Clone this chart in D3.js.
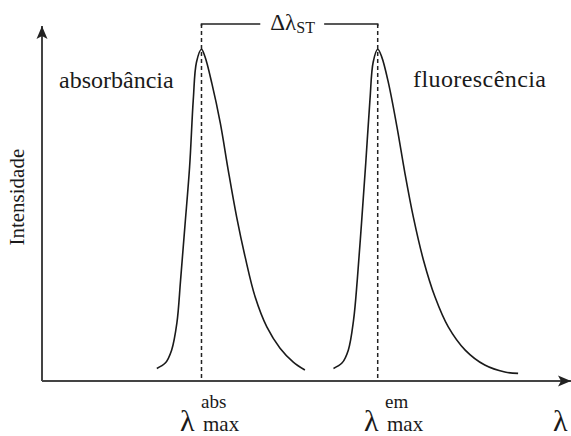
<!DOCTYPE html>
<html>
<head>
<meta charset="utf-8">
<script src="https://cdn.jsdelivr.net/npm/d3@7"></script>
<style>
  body { margin: 0; background: #fff; }
  svg { display: block; }
</style>
</head>
<body>
<svg id="chart" width="571" height="436" font-family="'Liberation Serif', 'DejaVu Serif', 'Times New Roman', serif" fill="#1a1a1a"></svg>
<script>
// wavelength in arbitrary units (0 = origin, 100 = end of axis), intensity normalised to the peak
const absWavelength = [21.7, 23.3, 24.5, 25.5, 26.2, 27.0, 27.9, 28.6, 29.2, 30.15, 30.8, 32.1, 33.7, 35.2, 36.8, 38.4, 40.3, 42.5, 45.0, 47.5, 49.7];
const absIntensity  = [0.038, 0.054, 0.093, 0.175, 0.305, 0.464, 0.645, 0.849, 0.961, 1.0, 0.978, 0.898, 0.778, 0.636, 0.494, 0.374, 0.253, 0.163, 0.099, 0.057, 0.033];

const emWavelength = [55.1, 56.7, 57.9, 58.9, 59.6, 60.4, 61.2, 62.0, 62.6, 63.46, 64.2, 65.5, 67.1, 68.6, 70.2, 72.1, 74.3, 76.8, 80.0, 83.7, 87.5, 90.0];
const emIntensity  = [0.038, 0.054, 0.093, 0.184, 0.305, 0.476, 0.657, 0.849, 0.961, 1.0, 0.978, 0.898, 0.766, 0.627, 0.494, 0.365, 0.253, 0.163, 0.093, 0.048, 0.027, 0.023];

const peakWavelength = [30.15, 63.46];
const curveLabels = ["absorbância", "fluorescência"];
const peakLabels = ["abs", "em"];

const svg = d3.select("#chart");

const x = d3.scaleLinear().domain([0, 100]).range([42, 571]);
const y = d3.scaleLinear().domain([0, 1]).range([381, 49.3]);

// arrow heads
const defs = svg.append("defs");
defs.append("marker")
    .attr("id", "arrow")
    .attr("markerUnits", "userSpaceOnUse")
    .attr("viewBox", "-14 -7 16 14")
    .attr("markerWidth", 16)
    .attr("markerHeight", 14)
    .attr("refX", 0)
    .attr("refY", 0)
    .attr("orient", "auto")
    .append("path")
    .attr("d", "M0,0 L-13,-5.5 L-10,0 L-13,5.5 Z")
    .attr("fill", "#222");

// axes
svg.append("line")
    .attr("x1", x(0)).attr("y1", y(0))
    .attr("x2", x(0)).attr("y2", y(1.07))
    .attr("stroke", "#444").attr("stroke-width", 2)
    .attr("marker-end", "url(#arrow)");

svg.append("line")
    .attr("x1", x(0)).attr("y1", y(0))
    .attr("x2", x(100)).attr("y2", y(0))
    .attr("stroke", "#444").attr("stroke-width", 2)
    .attr("marker-end", "url(#arrow)");

// spectra
const line = d3.line()
    .x(d => x(d[0]))
    .y(d => y(d[1]))
    .curve(d3.curveCatmullRom.alpha(0.5));

const spectra = [
    d3.zip(absWavelength, absIntensity),
    d3.zip(emWavelength, emIntensity)
];

svg.append("g")
    .selectAll("path")
    .data(spectra)
    .join("path")
    .attr("d", line)
    .attr("fill", "none")
    .attr("stroke", "#1a1a1a")
    .attr("stroke-width", 1.6);

// dashed lines at the maxima
const topLevel = 1.076;
svg.append("g")
    .selectAll("line")
    .data(peakWavelength)
    .join("line")
    .attr("x1", d => x(d)).attr("x2", d => x(d))
    .attr("y1", y(topLevel)).attr("y2", y(0))
    .attr("stroke", "#222")
    .attr("stroke-width", 1.5)
    .attr("stroke-dasharray", "4,3");

// Stokes shift bracket
const mid = (x(peakWavelength[0]) + x(peakWavelength[1])) / 2 + 3;
const shift = svg.append("text")
    .attr("x", mid)
    .attr("y", 30)
    .attr("text-anchor", "middle")
    .attr("font-size", 23);
shift.append("tspan").text("Δλ");
shift.append("tspan").attr("font-size", 16).attr("dy", 3).text("ST");

const bb = shift.node().getBBox();
svg.append("path")
    .attr("d", `M${x(peakWavelength[0])},${y(topLevel) + 2}V${y(topLevel)}H${bb.x - 10}` +
               `M${bb.x + bb.width + 9},${y(topLevel)}H${x(peakWavelength[1])}V${y(topLevel) + 2}`)
    .attr("fill", "none")
    .attr("stroke", "#222")
    .attr("stroke-width", 1.5);

// curve names
svg.append("text")
    .attr("x", 59).attr("y", 88)
    .attr("font-size", 24)
    .text(curveLabels[0]);

svg.append("text")
    .attr("x", 413).attr("y", 87)
    .attr("font-size", 24)
    .attr("textLength", 133)
    .text(curveLabels[1]);

// axis titles
svg.append("text")
    .attr("transform", `translate(24,${(y(0) + y(1)) / 2 - 18}) rotate(-90)`)
    .attr("text-anchor", "middle")
    .attr("font-size", 21)
    .text("Intensidade");

svg.append("text")
    .attr("x", 553).attr("y", 431)
    .attr("font-size", 30)
    .text("λ");

// λ max labels under the peaks
const labelShift = [-21.5, -13.7];
peakWavelength.forEach((p, i) => {
    const px = x(p) + labelShift[i];
    svg.append("text")
        .attr("x", px).attr("y", 431)
        .attr("font-size", 30)
        .text("λ");
    svg.append("text")
        .attr("x", px + 21).attr("y", 408)
        .attr("font-size", 19)
        .text(peakLabels[i]);
    svg.append("text")
        .attr("x", px + 23).attr("y", 431)
        .attr("font-size", 21)
        .text("max");
});
</script>
</body>
</html>
